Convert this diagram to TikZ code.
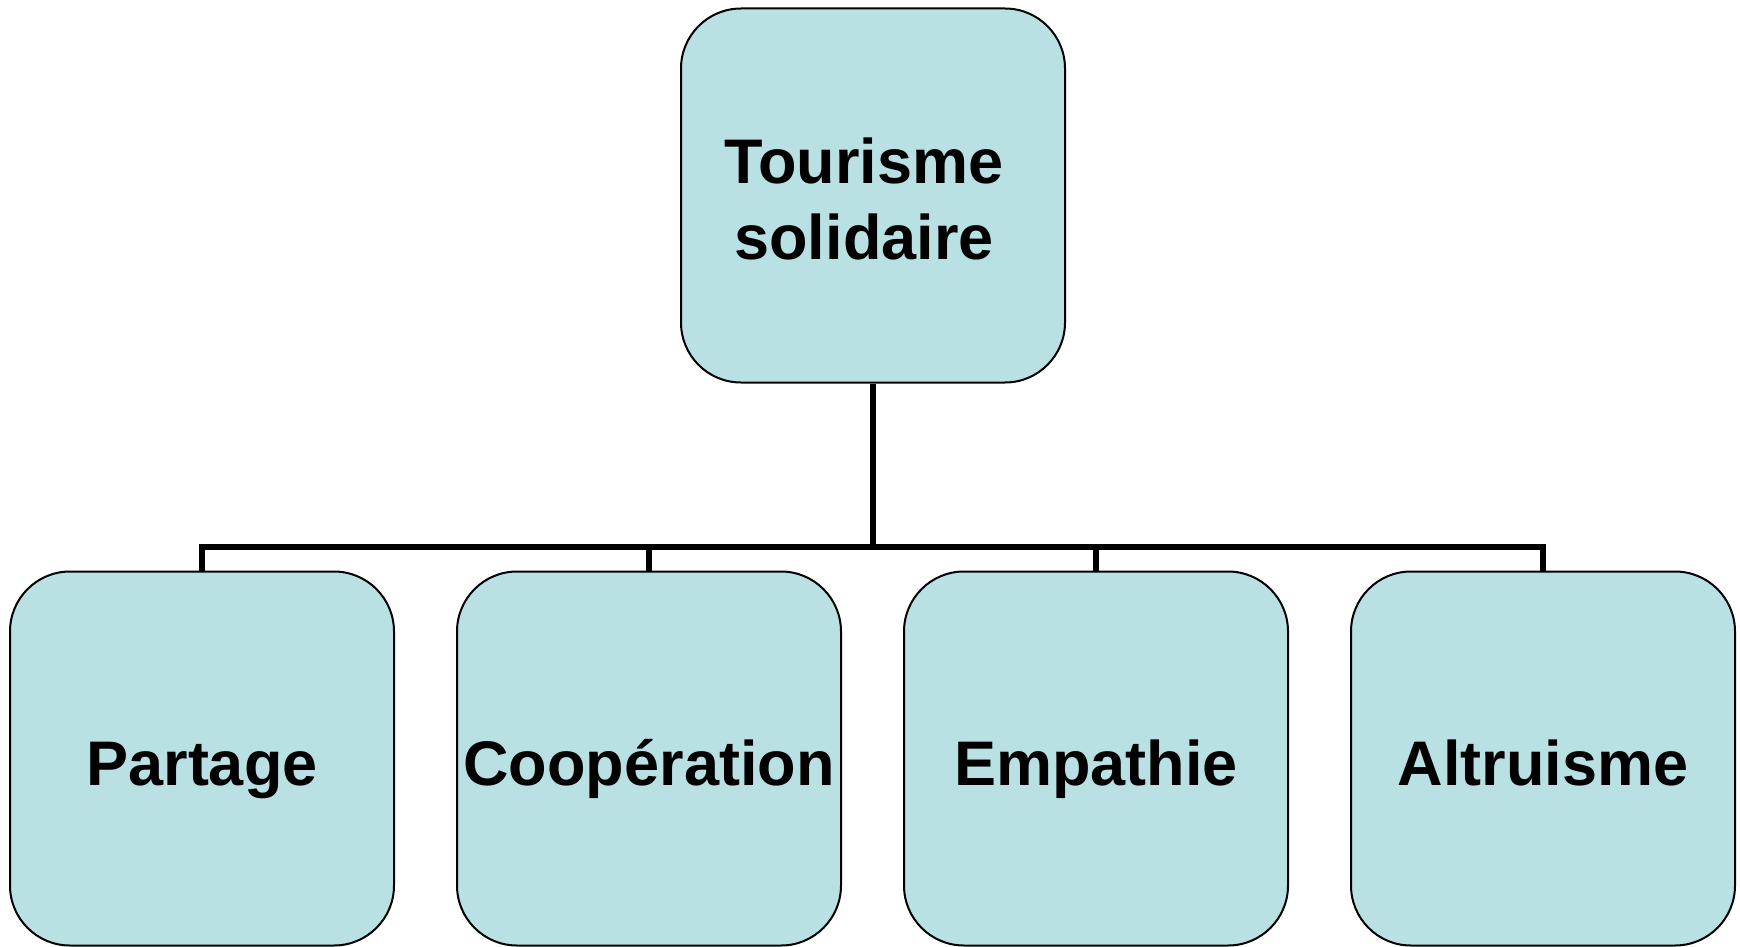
\documentclass[tikz,border=0pt]{standalone}
\usepackage{fontspec}
\setmainfont{Liberation Sans}
\definecolor{boxfill}{RGB}{185,224,227}
\begin{document}
\begin{tikzpicture}[x=1pt,y=-1pt,
  box/.style={draw=black, line width=2pt, fill=boxfill, rounded corners=60pt,
    minimum width=384pt, minimum height=374pt, inner sep=0pt, align=center,
    font=\fontsize{63pt}{76pt}\selectfont\bfseries},
  leaf/.style={box, text height=66pt, text depth=13pt},
  conn/.style={draw=black, line width=6pt, line join=miter}]
\useasboundingbox (0,0) rectangle (1740,947);
\node[box, text height=140pt, text depth=13pt] (top) at (873,195.5) {Tourisme\hspace*{18pt}\\solidaire\hspace*{18pt}};
\node[leaf] (b1) at (202,758.5) {Partage};
\node[leaf] (b2) at (649,758.5) {Coopération};
\node[leaf] (b3) at (1096,758.5) {Empathie};
\node[leaf] (b4) at (1543,758.5) {Altruisme};
\coordinate (bus) at (873,547);
\draw[conn] (top.south) -- (bus);
\draw[conn] (b1.north) -- (b1.north |- bus) -- (b4.north |- bus) -- (b4.north);
\draw[conn] (b2.north) -- (b2.north |- bus);
\draw[conn] (b3.north) -- (b3.north |- bus);
\end{tikzpicture}
\end{document}
